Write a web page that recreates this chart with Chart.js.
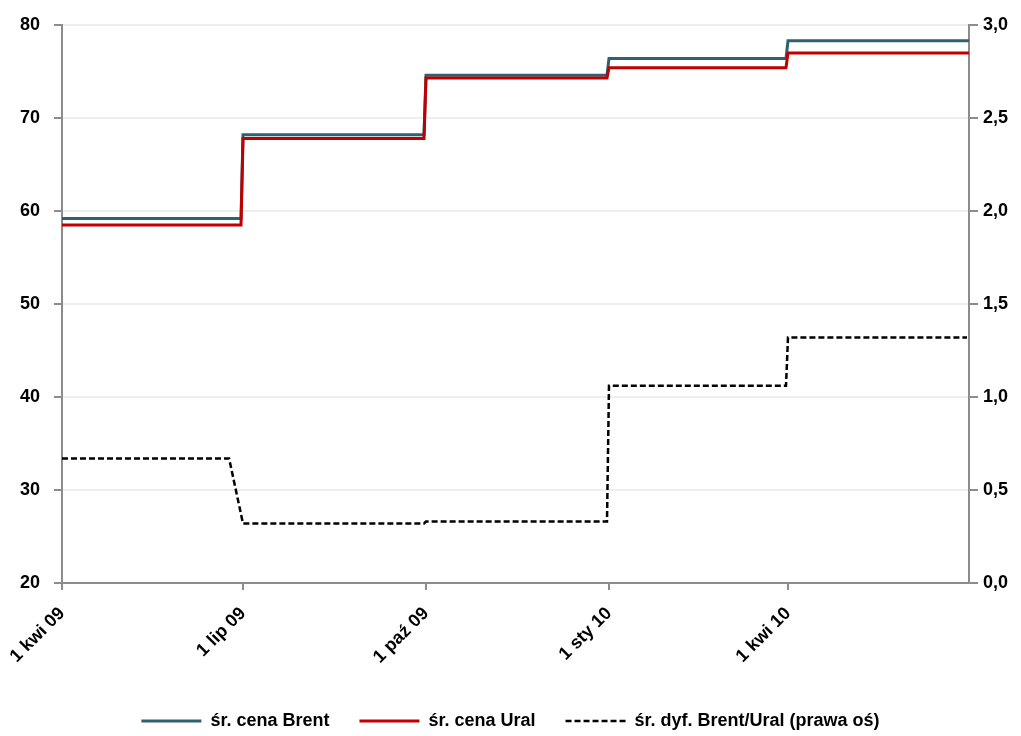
<!DOCTYPE html>
<html>
<head>
<meta charset="utf-8">
<script src="https://cdn.jsdelivr.net/npm/chart.js@4/dist/chart.umd.min.js"></script>
<style>
  html, body { margin: 0; padding: 0; background: #fff; }
  #wrap { width: 1021px; height: 736px; }
</style>
</head>
<body>
<div id="wrap"><canvas id="c" width="1021" height="736"></canvas></div>
<script>
// Quarterly averages, Brent and Urals (USD/bbl) and their spread (right axis)
const periodStarts = ['2009-04-01', '2009-07-01', '2009-10-01', '2010-01-01', '2010-04-01'];
const priceEnds    = ['2009-06-30', '2009-09-30', '2009-12-31', '2010-03-31', '2010-07-01'];
const brent = [59.2, 68.2, 74.6, 76.4, 78.3];
const ural  = [58.5, 67.8, 74.3, 75.4, 77.0];
const spreadEnds = ['2009-06-24', '2009-09-30', '2009-12-31', '2010-03-31', '2010-06-30'];
const spread = [0.67, 0.32, 0.33, 1.06, 1.32];

const axisStart = '2009-04-01';
const axisEnd = '2010-07-01';
const tickDates  = ['2009-04-01', '2009-07-01', '2009-10-01', '2010-01-01', '2010-04-01'];
const tickLabels = ['1 kwi 09', '1 lip 09', '1 paź 09', '1 sty 10', '1 kwi 10'];

const seriesNames = ['śr. cena Brent', 'śr. cena Ural', 'śr. dyf. Brent/Ural (prawa oś)'];

function dayIndex(s) {
  const [y, m, d] = s.split('-').map(Number);
  const [y0, m0, d0] = axisStart.split('-').map(Number);
  return Math.round((Date.UTC(y, m - 1, d) - Date.UTC(y0, m0 - 1, d0)) / 86400000);
}

// each period is a flat segment from its first to its last day
function steps(starts, ends, values) {
  const pts = [];
  values.forEach((v, i) => {
    pts.push({ x: dayIndex(starts[i]), y: v });
    pts.push({ x: dayIndex(ends[i]), y: v });
  });
  return pts;
}

const FONT = "'Liberation Sans', Arial, sans-serif";
const tickValues = tickDates.map(dayIndex);
const AXIS_GREY = '#8c8c8c';

new Chart(document.getElementById('c'), {
  type: 'line',
  data: {
    datasets: [
      {
        label: seriesNames[0],
        data: steps(periodStarts, priceEnds, brent),
        borderColor: '#2f6170',
        backgroundColor: '#2f6170',
        borderWidth: 3,
        pointRadius: 0,
        yAxisID: 'y',
        order: 3
      },
      {
        label: seriesNames[1],
        data: steps(periodStarts, priceEnds, ural),
        borderColor: '#c00000',
        backgroundColor: '#c00000',
        borderWidth: 3,
        pointRadius: 0,
        yAxisID: 'y',
        order: 2
      },
      {
        label: seriesNames[2],
        data: steps(periodStarts, spreadEnds, spread),
        borderColor: '#000000',
        backgroundColor: '#000000',
        borderWidth: 2.5,
        borderDash: [6, 3],
        pointRadius: 0,
        yAxisID: 'y1',
        order: 1
      }
    ]
  },
  options: {
    responsive: false,
    animation: false,
    layout: { padding: { top: 25, left: 0, right: 0, bottom: -4 } },
    plugins: {
      tooltip: { enabled: false },
      legend: {
        position: 'bottom',
        labels: {
          usePointStyle: true,
          pointStyle: 'line',
          pointStyleWidth: 60,
          boxHeight: 18,
          padding: 30,
          color: '#000',
          font: { family: FONT, size: 18, weight: 'bold' },
          sort: (a, b) => a.datasetIndex - b.datasetIndex,
          // legend samples use each dataset's own line colour, width and dash
          generateLabels: (chart) => {
            const items = Chart.defaults.plugins.legend.labels.generateLabels(chart);
            items.forEach(item => {
              const ds = chart.data.datasets[item.datasetIndex];
              item.strokeStyle = ds.borderColor;
              item.lineWidth = ds.borderWidth;
              item.lineDash = ds.borderDash || [];
            });
            return items;
          }
        }
      }
    },
    scales: {
      x: {
        type: 'linear',
        min: dayIndex(axisStart),
        max: dayIndex(axisEnd),
        afterBuildTicks: (scale) => { scale.ticks = tickValues.map(v => ({ value: v })); },
        afterFit: (scale) => { scale.height = 99; },
        grid: { drawOnChartArea: false, tickLength: 7, tickColor: AXIS_GREY, lineWidth: 2 },
        border: { color: AXIS_GREY, width: 2 },
        ticks: {
          autoSkip: false,
          minRotation: 45,
          maxRotation: 45,
          padding: 13,
          color: '#000',
          font: { family: FONT, size: 18, weight: 'bold' },
          callback: (v) => { const i = tickValues.indexOf(v); return i >= 0 ? tickLabels[i] : ''; }
        }
      },
      y: {
        position: 'left',
        min: 20,
        max: 80,
        afterFit: (scale) => { scale.width = 62; },
        grid: { color: '#eeeeee', lineWidth: 2, tickColor: AXIS_GREY, tickLength: 8 },
        border: { color: AXIS_GREY, width: 2 },
        ticks: {
          stepSize: 10,
          padding: 14,
          color: '#000',
          font: { family: FONT, size: 18, weight: 'bold' }
        }
      },
      y1: {
        position: 'right',
        min: 0,
        max: 3,
        afterFit: (scale) => { scale.width = 52; },
        grid: { drawOnChartArea: false, tickColor: AXIS_GREY, tickLength: 9, lineWidth: 2 },
        border: { color: AXIS_GREY, width: 2 },
        ticks: {
          stepSize: 0.5,
          padding: 5,
          color: '#000',
          font: { family: FONT, size: 18, weight: 'bold' },
          callback: (v) => v.toFixed(1).replace('.', ',')
        }
      }
    }
  }
});
</script>
</body>
</html>
